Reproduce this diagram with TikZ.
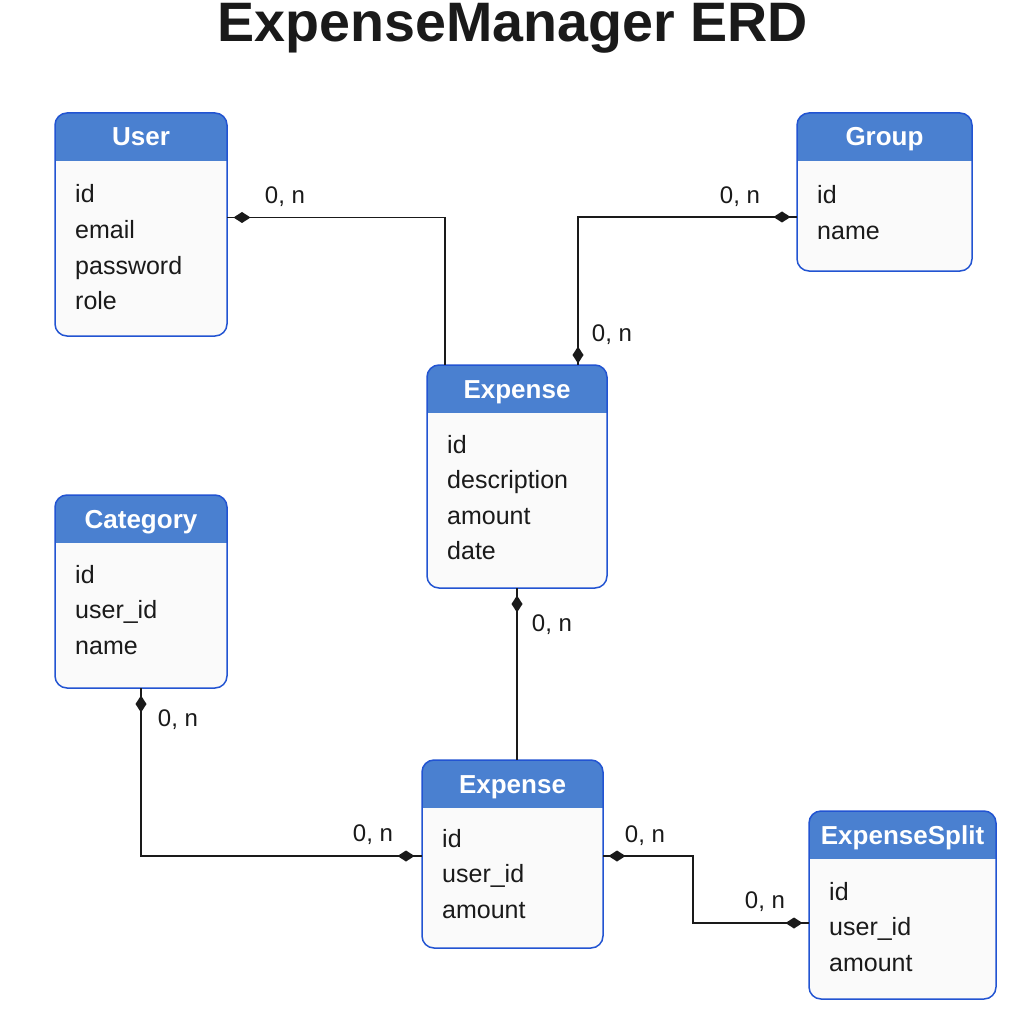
\documentclass[tikz,border=0pt]{standalone}
\usepackage{fontspec}
\setmainfont{Liberation Sans}
\usetikzlibrary{decorations.markings}
\definecolor{hdrblue}{RGB}{74,128,208}
\definecolor{edgeblue}{RGB}{34,84,210}
\definecolor{bodygray}{RGB}{250,250,250}
\definecolor{inkgray}{RGB}{26,26,26}

% #1 name, #2 left, #3 top, #4 width, #5 height, #6 title, #7 attributes, #8 first baseline
\newcommand{\erdentity}[8]{%
	\node[entbox, minimum width=#4pt, minimum height=#5pt] (#1) at (#2,#3) {};
	\begin{scope}
		\clip[rounded corners=12pt] (#1.north west) rectangle (#1.south east);
		\fill[hdrblue] (#1.north west) rectangle ([yshift=-48pt]#1.north east);
	\end{scope}
	\draw[entline] (#1.north west) rectangle (#1.south east);
	\node[enttitle] (#1-t) at ([yshift=-33pt]#1.north) {#6};
	\foreach \a [count=\i] in {#7}
		\node[entattr] (#1-a\i) at ([xshift=20pt,yshift={-#8pt-35.5pt*(\i-1)}]#1.north west) {\a};
}

\begin{document}
\begin{tikzpicture}[x=1pt,y=-1pt,
	entbox/.style={anchor=north west, fill=bodygray, rounded corners=12pt, inner sep=0pt, outer sep=0pt},
	entline/.style={draw=edgeblue, line width=1.5pt, rounded corners=12pt},
	enttitle/.style={anchor=base, text=white, inner sep=0pt, font=\fontsize{26}{30}\selectfont\bfseries},
	entattr/.style={anchor=base west, text=inkgray, inner sep=0pt, font=\fontsize{25}{30}\selectfont},
	card/.style={anchor=base, text=inkgray, inner sep=0pt, font=\fontsize{24}{28}\selectfont},
	link/.style={draw=inkgray, line width=1.9pt},
	dmdstart/.style={postaction={decorate,decoration={markings,mark=at position #1 with {\fill[inkgray] (-8.5,0)--(0,5.5)--(8.5,0)--(0,-5.5)--cycle;}}}},
	dmdend/.style={postaction={decorate,decoration={markings,mark=at position -#1 with {\fill[inkgray] (-8.5,0)--(0,5.5)--(8.5,0)--(0,-5.5)--cycle;}}}}]

	\useasboundingbox[fill=white] (0,0) rectangle (1024,1024);

	\node[anchor=base, text=inkgray, font=\fontsize{55.6}{60}\selectfont\bfseries] (title) at (513,42) {ExpenseManager ERD};

	% entities
	\erdentity{user}{55}{113}{172}{223}{User}{id,email,password,role}{90}
	\erdentity{group}{797}{113}{175}{158}{Group}{id,name}{91}
	\erdentity{expense}{427}{365}{180}{223}{Expense}{id,description,amount,date}{88}
	\erdentity{category}{55}{495}{172}{193}{Category}{id,user\_id,name}{88}
	\erdentity{entry}{422}{760}{181}{188}{Expense}{id,user\_id,amount}{87}
	\erdentity{split}{809}{811}{187}{188}{ExpenseSplit}{id,user\_id,amount}{89}

	% relationships
	\draw[link, dmdstart=15pt] ([yshift=7pt]user.east) -| ([xshift=-72pt]expense.north);
	\draw[link, dmdstart=15pt, dmdend=10pt] ([yshift=-25pt]group.west) -| ([xshift=61pt]expense.north);
	\draw[link, dmdstart=16pt] (expense.south) -- (expense.south |- entry.north);
	\draw[link, dmdstart=16pt, dmdend=16pt] (category.south) |- ([yshift=-2pt]entry.west);
	\draw[link, dmdstart=14pt, dmdend=15pt] ([yshift=-2pt]entry.east) -- ++(90,0) |- ([yshift=-18pt]split.west);

	% cardinalities
	\node[card] (c1) at (285,204) {0, n};
	\node[card] (c2) at (740,204) {0, n};
	\node[card] (c3) at (612,341) {0, n};
	\node[card] (c4) at (552,631) {0, n};
	\node[card] (c5) at (178,726) {0, n};
	\node[card] (c6) at (373,841) {0, n};
	\node[card] (c7) at (645,842) {0, n};
	\node[card] (c8) at (765,908) {0, n};

\end{tikzpicture}
\end{document}
